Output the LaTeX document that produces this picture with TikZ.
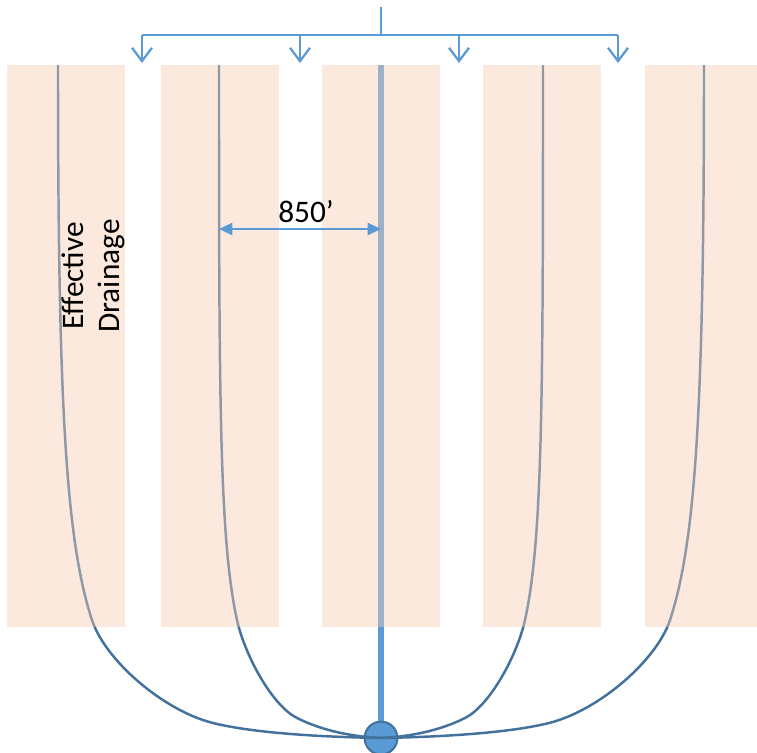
\documentclass[tikz,border=0pt]{standalone}
\usepackage{fontspec}
\setmainfont{Carlito}
\usetikzlibrary{arrows.meta}
\definecolor{peach}{RGB}{247,205,177}
\definecolor{lblue}{RGB}{91,155,213}
\definecolor{dblue}{RGB}{65,113,156}
\begin{document}
\begin{tikzpicture}[x=0.75pt,y=-0.75pt,
  band/.style={fill=peach, fill opacity=0.43, draw=none},
  feed/.style={draw=lblue, line width=1.7pt},
  feedarrow/.style={feed, -{Straight Barb[length=10pt,width=15pt,line width=1.7pt]}},
  drain/.style={draw=dblue, line width=1.85pt},
  lateral/.style={draw=lblue, line width=4.2pt},
  wellnode/.style={circle, minimum size=24.5pt, inner sep=0pt, fill=lblue, draw=dblue, line width=1.4pt},
  dim/.style={feed, {Triangle[length=10pt,width=9pt]}-{Triangle[length=10pt,width=9pt]}},
  lbl/.style={font=\fontsize{23.5}{27}\selectfont, inner sep=0pt}]
\useasboundingbox (0,0) rectangle (757,753);
% central lateral and well
\coordinate (w3) at (381,65);
\node[wellnode] (well) at (381,738) {};
\draw[lateral] (w3) -- (well.north);
\node[wellnode] at (well) {};
% drainage curves (left half)
\coordinate (w1) at (58,65);
\coordinate (w2) at (219,65);
\draw[drain] (w1) .. controls (58,400) and (65.6,540) .. (92,620)
  .. controls (105,660) and (163,710.5) .. (213,723)
  .. controls (253,733) and (321,737) .. (well.center);
\draw[drain] (w2) .. controls (219,400) and (219.4,540) .. (237,620)
  .. controls (244.7,655) and (272,705.5) .. (297,718)
  .. controls (322,730.5) and (351,736.5) .. (well.center);
% drainage curves (right half, mirrored)
\coordinate (w4) at (543,65);
\coordinate (w5) at (704,65);
\draw[drain] (w5) .. controls (704,400) and (696.4,540) .. (670,620)
  .. controls (657,660) and (599,710.5) .. (549,723)
  .. controls (509,733) and (441,737) .. (well.center);
\draw[drain] (w4) .. controls (543,400) and (542.6,540) .. (525,620)
  .. controls (517.3,655) and (490,705.5) .. (465,718)
  .. controls (440,730.5) and (411,736.5) .. (well.center);
% bands
\fill[band] (7,65) rectangle (125,627);
\fill[band] (161,65) rectangle (279,627);
\fill[band] (322,65) rectangle (440,627);
\fill[band] (483,65) rectangle (601,627);
\fill[band] (645,65) rectangle (757,627);
% feed manifold
\coordinate (src) at (381,7);
\coordinate (bus) at (381,35);
\coordinate (b1) at (142,35);
\coordinate (b2) at (300,35);
\coordinate (b3) at (459,35);
\coordinate (b4) at (618,35);
\coordinate (t1) at (142,63);
\coordinate (t2) at (300,63);
\coordinate (t3) at (459,63);
\coordinate (t4) at (618,63);
\draw[feed] (src) -- (bus);
\draw[feed] (b1) -- (b4);
\draw[feedarrow] (b1) -- (t1);
\draw[feedarrow] (b2) -- (t2);
\draw[feedarrow] (b3) -- (t3);
\draw[feedarrow] (b4) -- (t4);
% dimension
\coordinate (dL) at (219,229);
\coordinate (dR) at (381,229);
\draw[dim] (dL) -- (dR);
\node[lbl] (dimtext) at (306,212) {850’};
\node[lbl, rotate=90, align=center] (drtext) at (93,276) {Effective\\Drainage};
\end{tikzpicture}
\end{document}
